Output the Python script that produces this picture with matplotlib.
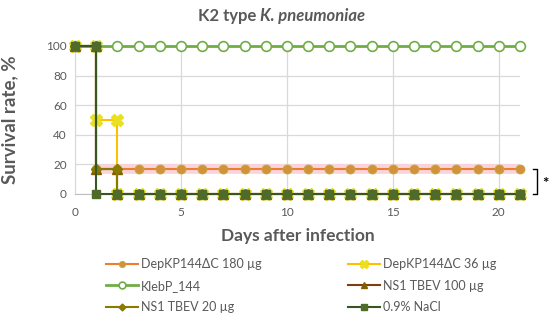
import matplotlib.pyplot as plt

plt.rcParams['font.family'] = ['Lato', 'DejaVu Sans']

# survival curves (Kaplan-Meier style, duplicated x = step)
days_180 = [0, 1, 1, 2, 3, 4, 5, 6, 7, 8, 9, 10, 11, 12, 13, 14, 15, 16, 17, 18, 19, 20, 21]
surv_180 = [100, 100, 16.7, 16.7, 16.7, 16.7, 16.7, 16.7, 16.7, 16.7, 16.7, 16.7, 16.7,
            16.7, 16.7, 16.7, 16.7, 16.7, 16.7, 16.7, 16.7, 16.7, 16.7]

days_36 = [0, 1, 1, 2, 2, 3, 4, 5, 6, 7, 8, 9, 10, 11, 12, 13, 14, 15, 16, 17, 18, 19, 20, 21]
surv_36 = [100, 100, 50, 50, 0, 0, 0, 0, 0, 0, 0, 0, 0, 0, 0, 0, 0, 0, 0, 0, 0, 0, 0, 0]

days_kleb = list(range(0, 22))
surv_kleb = [100] * 22

days_ns100 = [0, 1, 1, 2, 2, 3, 4, 5, 6, 7, 8, 9, 10, 11, 12, 13, 14, 15, 16, 17, 18, 19, 20, 21]
surv_ns100 = [100, 100, 16.7, 16.7, 0, 0, 0, 0, 0, 0, 0, 0, 0, 0, 0, 0, 0, 0, 0, 0, 0, 0, 0, 0]

days_ns20 = [0, 1, 1, 2, 2, 3, 4, 5, 6, 7, 8, 9, 10, 11, 12, 13, 14, 15, 16, 17, 18, 19, 20, 21]
surv_ns20 = [100, 100, 16.7, 16.7, 0, 0, 0, 0, 0, 0, 0, 0, 0, 0, 0, 0, 0, 0, 0, 0, 0, 0, 0, 0]

days_nacl = [0, 1, 1, 2, 3, 4, 5, 6, 7, 8, 9, 10, 11, 12, 13, 14, 15, 16, 17, 18, 19, 20, 21]
surv_nacl = [100, 100, 0, 0, 0, 0, 0, 0, 0, 0, 0, 0, 0, 0, 0, 0, 0, 0, 0, 0, 0, 0, 0]

labels = ['DepKP144ΔC 180 µg', 'DepKP144ΔC 36 µg', 'KlebP_144',
          'NS1 TBEV 100 µg', 'NS1 TBEV 20 µg', '0.9% NaCl']

txt = '#595959'
fig = plt.figure(figsize=(5.5, 3.2), dpi=100)
ax = fig.add_axes([75 / 550, 126 / 320, 445 / 550, 148 / 320])

# pink glow under the 180 ug line
ax.plot(days_180[2:], surv_180[2:], color='#FBD3DC', lw=7, solid_capstyle='butt', zorder=1)

s_kleb, = ax.plot(days_kleb, surv_kleb, color='#70AD47', lw=2, marker='o', ms=7,
                  mfc='white', mec='#70AD47', mew=1.2, zorder=3, clip_on=False)
s_180, = ax.plot(days_180, surv_180, color='#ED7D31', lw=1.5, marker='o', ms=6.5,
                 mfc='#D4913A', mec='#B8B040', mew=0.6, zorder=4, clip_on=False)
s_36, = ax.plot(days_36, surv_36, color='#FFC000', lw=1.5, marker='X', ms=8,
                mfc='#E8E020', mec='#E8E020', zorder=4, clip_on=False)
s_ns100, = ax.plot(days_ns100, surv_ns100, color='#843C0C', lw=1.5, marker='^', ms=7,
                   mfc='#7F6000', mec='#7F6000', zorder=5, clip_on=False)
s_ns20, = ax.plot(days_ns20, surv_ns20, color='#8A7A00', lw=1.5, marker='D', ms=5,
                  mfc='#8A7A00', mec='#8A7A00', zorder=5, clip_on=False)
s_nacl, = ax.plot(days_nacl, surv_nacl, color='#375623', lw=1.5, marker='s', ms=5.5,
                  mfc='#4E6B2A', mec='#4E6B2A', zorder=6, clip_on=False)

ax.set_xlim(0, 21)
ax.set_ylim(0, 100)
ax.set_xticks([0, 5, 10, 15, 20])
ax.set_yticks([0, 20, 40, 60, 80, 100])
ax.grid(True, color='#D9D9D9', lw=0.9)
ax.set_axisbelow(True)
for sp in ['top', 'right']:
    ax.spines[sp].set_visible(False)
ax.spines['left'].set_color('#D9D9D9')
ax.spines['bottom'].set_color('#BFBFBF')
ax.tick_params(length=0, labelsize=8.5, labelcolor=txt)
ax.tick_params(axis='x', pad=9)
ax.tick_params(axis='y', pad=6)

ax.set_xlabel('Days after infection', fontsize=12.5, fontweight='bold', color=txt)
ax.xaxis.set_label_coords(0.5, -0.23)
ax.set_ylabel('Survival rate, %', fontsize=13.5, fontweight='bold', color=txt)
ax.yaxis.set_label_coords(-0.128, 0.5)

# title with italic species name
t1 = fig.text(0.36, 0.935, 'K2 type ', fontsize=12, fontweight='bold', color=txt,
              ha='left', va='baseline')
ax.annotate('K. pneumoniae', xy=(1, 0), xycoords=t1, fontsize=12, fontweight='bold',
            style='italic', color=txt, ha='left', va='bottom', annotation_clip=False)

# significance bracket
ax.plot([21.6, 21.8, 21.8, 21.6], [16.7, 16.7, 0, 0], color='black', lw=1, clip_on=False)
ax.text(22.2, 7, '*', fontsize=11, fontweight='bold', ha='center', va='center', clip_on=False)

handles = [s_180, s_kleb, s_ns20, s_36, s_ns100, s_nacl]
order = [labels[0], labels[2], labels[4], labels[1], labels[3], labels[5]]
leg = fig.legend(handles, order, ncol=2, loc='lower left', bbox_to_anchor=(0.172, -0.014),
                 frameon=False, fontsize=9, handlelength=2.6, handletextpad=0.2,
                 columnspacing=6.9, labelspacing=0.75, labelcolor=txt, markerscale=0.7)

fig.savefig('out.png', dpi=100)
